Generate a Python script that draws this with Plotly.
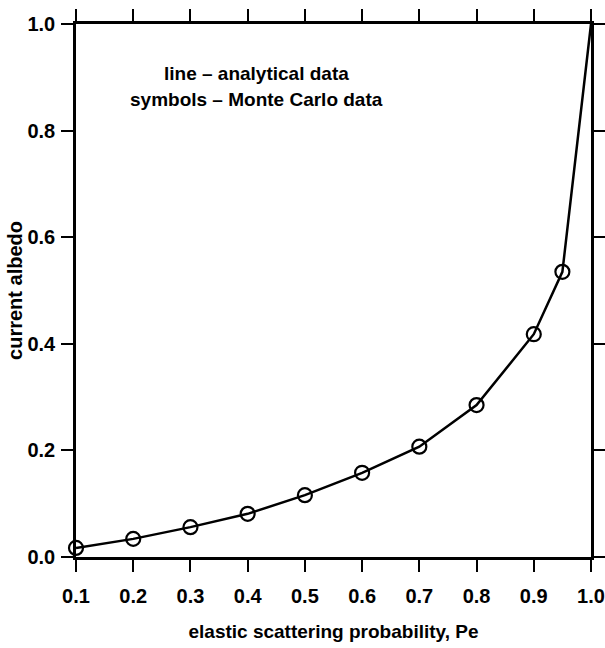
import plotly.graph_objects as go

pe_line = [0.1, 0.2, 0.3, 0.4, 0.5, 0.6, 0.7, 0.8, 0.9, 0.95, 1.0]
albedo_line = [0.017, 0.034, 0.056, 0.081, 0.116, 0.158, 0.207, 0.285, 0.418, 0.535, 1.0]
pe_mc = [0.1, 0.2, 0.3, 0.4, 0.5, 0.6, 0.7, 0.8, 0.9, 0.95]
albedo_mc = [0.017, 0.034, 0.056, 0.081, 0.116, 0.158, 0.207, 0.285, 0.418, 0.535]
x_ticks = [0.1, 0.2, 0.3, 0.4, 0.5, 0.6, 0.7, 0.8, 0.9, 1.0]
y_ticks = [0.0, 0.2, 0.4, 0.6, 0.8, 1.0]

FONT = "Liberation Sans, Arial, sans-serif"

fig = go.Figure()
fig.add_trace(go.Scatter(x=pe_line, y=albedo_line, mode="lines",
                         line=dict(color="black", width=2.5), cliponaxis=False))
fig.add_trace(go.Scatter(x=pe_mc, y=albedo_mc, mode="markers",
                         marker=dict(symbol="circle-open", size=14, color="black",
                                     line=dict(color="black", width=2.2)),
                         cliponaxis=False))

axis_common = dict(showline=True, linecolor="black", linewidth=2.5, mirror="ticks",
                   ticks="outside", ticklen=12, tickwidth=2, tickcolor="black",
                   showgrid=False, zeroline=False, automargin=False,
                   tickfont=dict(family=FONT, size=20, color="black", weight="bold"))

fig.update_layout(
    width=605, height=648,
    margin=dict(l=76, r=14, t=24, b=91),
    paper_bgcolor="white", plot_bgcolor="white",
    showlegend=False,
    font=dict(family=FONT, color="black"),
    xaxis=dict(range=[0.1, 1.0], tickvals=x_ticks, ticktext=[f"{v:.1f}" for v in x_ticks],
               title=dict(text="elastic scattering probability, Pe",
                          font=dict(family=FONT, size=19, weight="bold"), standoff=19),
               ticklabelstandoff=7,
               **axis_common),
    yaxis=dict(range=[0, 1.0], tickvals=y_ticks, ticktext=[f"{v:.1f}" for v in y_ticks],
               title=dict(text="current albedo",
                          font=dict(family=FONT, size=20, weight="bold"), standoff=0),
               ticklabelstandoff=2,
               **axis_common),
)

fig.add_annotation(x=0.416, y=0.908, xref="x", yref="y", showarrow=False,
                   text="line – analytical data",
                   font=dict(family=FONT, size=19, color="black", weight="bold"))
fig.add_annotation(x=0.416, y=0.858, xref="x", yref="y", showarrow=False,
                   text="symbols – Monte Carlo data",
                   font=dict(family=FONT, size=19, color="black", weight="bold"))

fig.write_html("out.html", config={"displayModeBar": False},
               post_script="document.body.style.margin='0';document.body.style.overflow='hidden';")
